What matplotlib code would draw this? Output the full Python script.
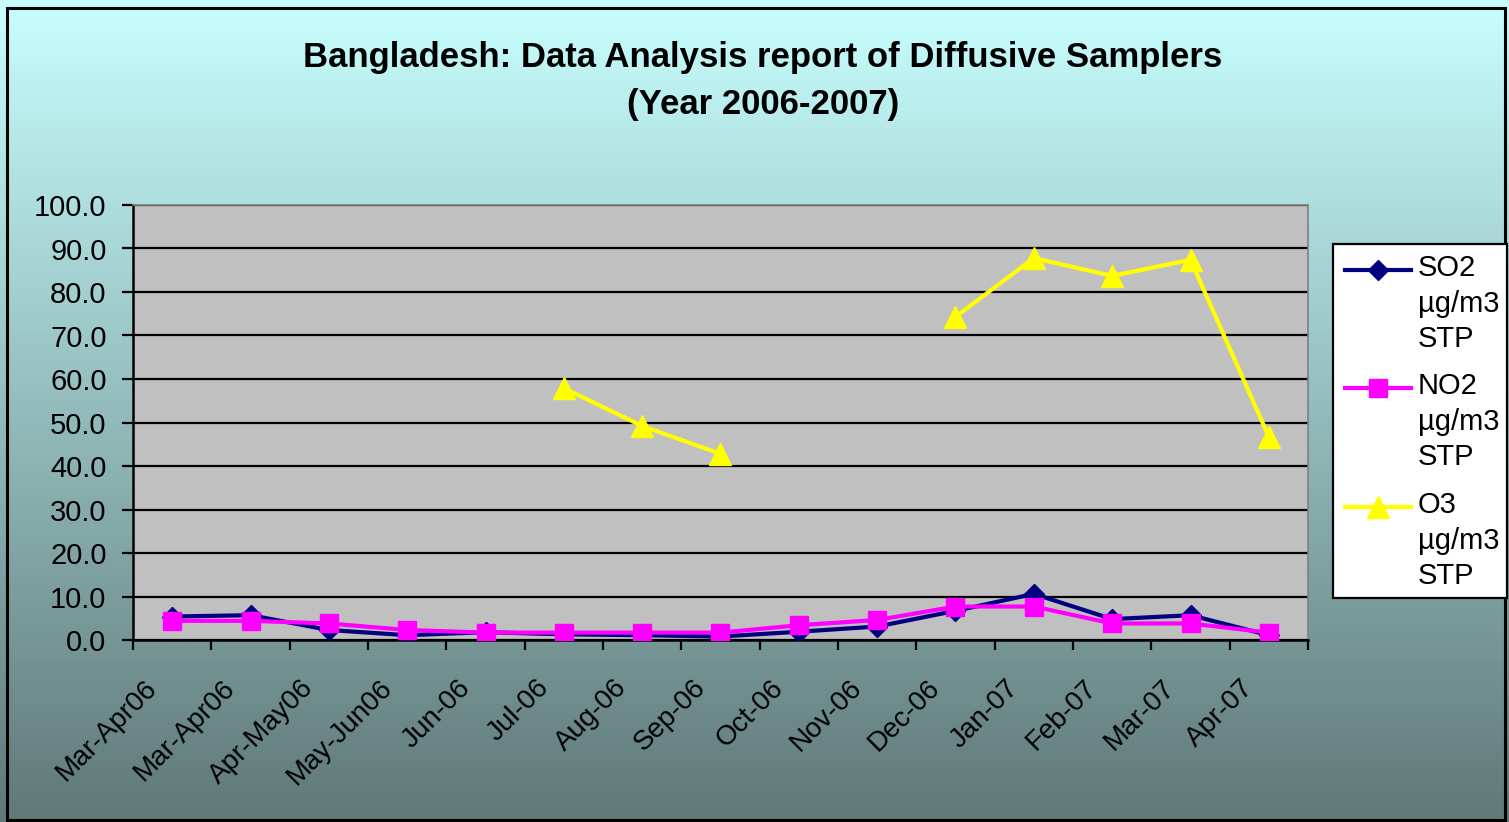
import numpy as np
import matplotlib
matplotlib.use('Agg')
import matplotlib.pyplot as plt
from matplotlib.lines import Line2D
from matplotlib.patches import Rectangle
import matplotlib.transforms as mtransforms

plt.rcParams['font.family'] = ['Liberation Sans', 'DejaVu Sans']

# data
months = ['Mar-Apr06', 'Mar-Apr06', 'Apr-May06', 'May-Jun06', 'Jun-06', 'Jul-06',
          'Aug-06', 'Sep-06', 'Oct-06', 'Nov-06', 'Dec-06', 'Jan-07', 'Feb-07',
          'Mar-07', 'Apr-07']
so2 = [5.4, 5.7, 2.3, 1.1, 1.8, 1.3, 1.1, 0.8, 1.9, 3.1, 6.7, 10.6, 4.8, 5.7, 1.1]
no2 = [4.4, 4.4, 3.8, 2.3, 1.7, 1.7, 1.7, 1.7, 3.4, 4.6, 7.7, 7.7, 3.8, 3.8, 1.7]
o3 = [np.nan, np.nan, np.nan, np.nan, np.nan, 57.9, 49.2, 42.8, np.nan, np.nan,
      74.3, 87.8, 83.7, 87.4, 46.7]
legend_labels = ['SO2\nµg/m3\nSTP', 'NO2\nµg/m3\nSTP', 'O3\nµg/m3\nSTP']

W, H = 1509, 822
fig = plt.figure(figsize=(W / 100, H / 100), dpi=100)

# gradient background
bg = fig.add_axes([0, 0, 1, 1], zorder=-10)
grad = np.linspace(0, 1, 256).reshape(-1, 1)
top = np.array([200, 255, 255]) / 255
bot = np.array([96, 120, 120]) / 255
img = top[None, None, :] * (1 - grad[:, :, None]) + bot[None, None, :] * grad[:, :, None]
bg.imshow(img, aspect='auto', extent=[0, 1, 0, 1], origin='upper')
bg.set_xlim(0, 1)
bg.set_ylim(0, 1)
bg.axis('off')
bg.add_patch(Rectangle((7 / W, 1 - 820 / H), (1505 - 7) / W, (820 - 8) / H,
                       fill=False, ec='black', lw=2.2, transform=fig.transFigure))

ax = fig.add_axes([133 / W, 1 - 640 / H, (1308 - 133) / W, (640 - 205) / H])
ax.set_facecolor('#C0C0C0')

x = np.arange(len(months))
ax.plot(x, so2, color='#000080', lw=3, marker='D', ms=10, zorder=3)
ax.plot(x, no2, color='#FF00FF', lw=3, marker='s', ms=13, zorder=4)
ax.plot(x, o3, color='#FFFF00', lw=3, marker='^', ms=16, zorder=5)

ax.set_xlim(-0.5, len(months) - 0.5)
ax.set_ylim(0, 100)
ax.set_yticks(np.arange(0, 101, 10))
ax.set_yticklabels(['%.1f' % v for v in np.arange(0, 101, 10)], fontsize=21)
ax.yaxis.grid(True, color='black', lw=1.6)
ax.set_axisbelow(True)

# ticks at category boundaries, labels at centres
ax.set_xticks(np.arange(-0.5, len(months), 1))
ax.set_xticklabels([])
ax.set_xticks(x, minor=True)
ax.set_xticklabels(months, minor=True, rotation=45, ha='right', va='top', fontsize=20)
ax.tick_params(axis='x', which='major', length=7, width=1.6, direction='out')
ax.tick_params(axis='x', which='minor', length=0, pad=25)
ax.tick_params(axis='y', length=8, width=1.6, pad=11)
offset = mtransforms.ScaledTranslation(-10 / 100, 0, fig.dpi_scale_trans)
for lab in ax.get_xticklabels(minor=True):
    lab.set_transform(lab.get_transform() + offset)

for s in ['left', 'bottom']:
    ax.spines[s].set_color('black')
    ax.spines[s].set_linewidth(1.8)
for s in ['top', 'right']:
    ax.spines[s].set_color('#808080')
    ax.spines[s].set_linewidth(1.2)

# title
fig.text(763 / W, 1 - 58 / H, 'Bangladesh: Data Analysis report of Diffusive Samplers',
         ha='center', va='center', fontsize=25, fontweight='bold')
fig.text(763 / W, 1 - 104 / H, '(Year 2006-2007)',
         ha='center', va='center', fontsize=25, fontweight='bold')

# legend box
fig.patches.append(Rectangle((1333 / W, 1 - 598 / H), (1507 - 1333) / W, (598 - 244) / H,
                             fc='white', ec='black', lw=1.6, transform=fig.transFigure,
                             zorder=5))
styles = [('#000080', 'D', 10), ('#FF00FF', 's', 13), ('#FFFF00', '^', 16)]
ys = [270, 388, 507]
for (c, m, ms), yy, lab in zip(styles, ys, legend_labels):
    fig.add_artist(Line2D([1345 / W, 1411 / W], [1 - yy / H] * 2, color=c, lw=3,
                          transform=fig.transFigure, zorder=6))
    fig.add_artist(Line2D([1378 / W], [1 - yy / H], color=c, marker=m, ms=ms,
                          transform=fig.transFigure, zorder=7))
    fig.text(1418 / W, 1 - (yy - 16) / H, lab, ha='left', va='top', fontsize=21,
             linespacing=1.35, zorder=8)

fig.savefig('out.png', dpi=100)
